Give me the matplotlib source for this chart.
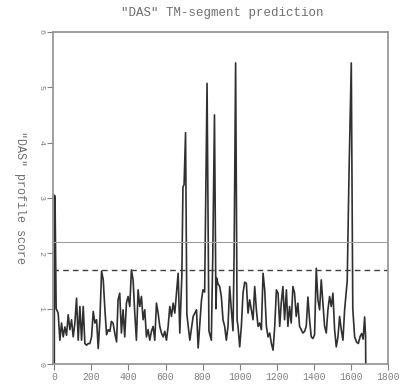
import matplotlib
matplotlib.use("Agg")
import matplotlib.pyplot as plt

# residue positions and DAS profile scores
positions = [0, 1, 4, 10, 21, 30, 39, 48, 57, 66, 75, 84, 93, 102, 111, 120, 129, 138, 147,
             156, 165, 174, 183, 192, 201, 210, 219, 228, 237, 246, 255, 264, 273, 282,
             291, 300, 308, 317, 326, 336, 344, 353, 362, 371, 380, 389, 398, 407, 416,
             425, 434, 443, 452, 461, 470, 479, 488, 497, 506, 515, 524, 533, 542, 551,
             560, 569, 578, 587, 596, 605, 614, 623, 632, 641, 650, 659, 668, 677, 688,
             694, 700, 708, 715, 731, 749, 767, 776, 794, 802, 811, 824, 834, 847, 855,
             864, 872, 876, 883, 892, 901, 910, 919, 928, 937, 946, 955, 964, 970, 978,
             986, 991, 1000, 1009, 1018, 1027, 1036, 1045, 1054, 1063, 1072, 1081, 1090,
             1099, 1108, 1117, 1126, 1135, 1144, 1153, 1162, 1171, 1180, 1189, 1198, 1207,
             1216, 1224, 1233, 1242, 1252, 1260, 1269, 1278, 1287, 1296, 1305, 1314, 1323,
             1332, 1341, 1350, 1359, 1368, 1377, 1386, 1395, 1404, 1413, 1422, 1431, 1440,
             1449, 1458, 1467, 1476, 1485, 1494, 1503, 1512, 1521, 1530, 1539, 1548, 1557,
             1566, 1580, 1590, 1602, 1610, 1620, 1630, 1640, 1650, 1658, 1666, 1674, 1679,
             1680]
scores = [0.0, 3.05, 3.0, 1.0, 0.92, 0.43, 0.74, 0.49, 0.67, 0.52, 0.89, 0.62, 0.80, 0.49, 0.74,
          1.19, 0.43, 1.04, 0.43, 1.04, 0.37, 0.34, 0.37, 0.37, 0.49, 0.95, 0.74, 0.80, 0.28,
          0.80, 1.68, 1.52, 0.98, 0.53, 0.62, 0.59, 0.77, 0.74, 0.56, 0.40, 1.16, 1.28, 0.56,
          0.98, 0.49, 1.10, 1.22, 1.04, 1.70, 1.52, 0.92, 0.43, 1.34, 1.04, 1.22, 0.80, 0.98,
          0.49, 0.62, 0.43, 0.59, 0.68, 0.43, 1.10, 0.92, 0.68, 0.56, 0.49, 0.59, 0.43, 0.68,
          1.04, 0.86, 1.10, 0.92, 1.28, 1.64, 0.56, 1.60, 3.20, 3.24, 4.18, 0.90, 0.43, 0.86,
          0.98, 0.29, 1.16, 1.34, 1.30, 5.07, 0.60, 0.43, 2.00, 4.50, 1.00, 1.55, 1.45, 1.40,
          1.22, 0.80, 0.68, 0.43, 0.68, 1.40, 0.98, 0.60, 2.00, 5.44, 0.80, 0.68, 0.31, 0.68,
          1.28, 1.48, 1.46, 0.92, 1.16, 0.98, 0.80, 1.40, 0.98, 0.68, 0.74, 0.62, 1.64, 1.34,
          0.68, 0.49, 0.56, 0.37, 0.25, 0.68, 1.34, 1.28, 0.68, 1.10, 1.40, 0.80, 1.34, 0.68,
          1.04, 0.74, 1.40, 1.28, 0.86, 1.10, 0.68, 0.62, 0.56, 0.59, 0.68, 1.21, 0.80, 0.49,
          0.46, 0.53, 1.73, 1.16, 0.98, 1.52, 1.10, 0.68, 0.56, 0.98, 1.22, 1.04, 1.28, 0.62,
          0.31, 0.49, 0.86, 0.62, 0.43, 0.98, 1.50, 3.50, 5.44, 1.00, 0.49, 0.40, 0.37, 0.50,
          0.55, 0.45, 0.85, 0.50, 0.0]

loose_cutoff = 2.2
strict_cutoff = 1.7
x_ticks = [0, 200, 400, 600, 800, 1000, 1200, 1400, 1600, 1800]
y_ticks = [0, 1, 2, 3, 4, 5, 6]
title = '"DAS" TM-segment prediction'
ylabel = '"DAS" profile score'

font = ['Liberation Mono', 'DejaVu Sans Mono']
grey = '#808080'

fig = plt.figure(figsize=(4.0, 3.87), dpi=100)
ax = fig.add_axes([0.1325, 0.0594, 0.8375, 0.858])

ax.plot(positions, scores, color='#303030', lw=1.2)
ax.axhline(loose_cutoff, color='#a0a0a0', lw=0.8)
ax.axhline(strict_cutoff, color='#404040', lw=1.0, ls=(0, (4, 3)))

ax.set_xlim(-7, 1800)
ax.set_ylim(0, 6)
ax.set_xticks(x_ticks)
ax.set_yticks(y_ticks)
ax.set_xticklabels([str(t) for t in x_ticks], family=font, fontsize=7, color=grey)
ax.set_yticklabels([str(t) for t in y_ticks], family=font, fontsize=6, color=grey,
                   rotation=270, va='center')
ax.tick_params(axis='both', direction='out', length=4, width=0.8, color=grey, pad=2)

for s in ax.spines.values():
    s.set_color('#909090')
    s.set_linewidth(1.2)

fig.text(0.555, 0.966, title, family=font, fontsize=9, color='#707070',
         ha='center', va='center')
fig.text(0.05, 0.49, ylabel, family=font, fontsize=8.5, color='#707070',
         rotation=270, ha='center', va='center')

fig.savefig('out.png', dpi=100)
